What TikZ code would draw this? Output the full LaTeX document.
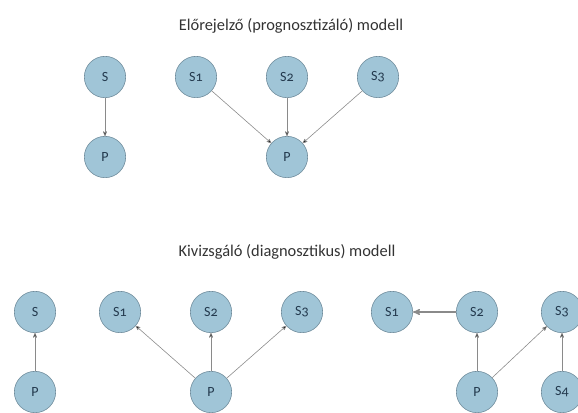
\documentclass[tikz,border=0pt]{standalone}
\usepackage{fontspec}
\setmainfont{Carlito}
\newfontfamily\oldnum[Numbers=OldStyle]{Carlito}
\usetikzlibrary{arrows}
\definecolor{nodefill}{HTML}{A0C5D7}
\definecolor{nodeline}{HTML}{6F8C9C}
\definecolor{nodetext}{HTML}{243A4E}
\definecolor{edgeline}{HTML}{8A8A8A}

\begin{document}
\begin{tikzpicture}[x=0.03cm,y=-0.03cm,>=stealth',
  main node/.style={circle,draw=nodeline,fill=nodefill,line width=0.5pt,
    minimum size=1.24cm,inner sep=0pt,text=nodetext,font=\oldnum\fontsize{12}{14}\selectfont},
  title/.style={font=\fontsize{14}{16}\selectfont,text=black!80},
  link/.style={->,draw=edgeline,line width=0.5pt}]
  \useasboundingbox (0,0) rectangle (578,412);
  % upper half
  \node[title] (t1) at (291,26) {Előrejelző (prognosztizáló) modell};
  \node[main node] (s)  at (105,77)   {S};
  \node[main node] (p)  at (105,157)  {P};
  \node[main node] (s1) at (196,77)   {S1};
  \node[main node] (s2) at (287,77)   {S2};
  \node[main node] (s3) at (378,77)   {S3};
  \node[main node] (p1) at (287,157)  {P};
  % lower half
  \node[title] (t2) at (287,252) {Kivizsgáló (diagnosztikus) modell};
  \node[main node] (bs)  at (35,312)  {S};
  \node[main node] (bp)  at (35,392)  {P};
  \node[main node] (bs1) at (120,312) {S1};
  \node[main node] (bs2) at (211,312) {S2};
  \node[main node] (bs3) at (302,312) {S3};
  \node[main node] (bp1) at (211,392) {P};
  \node[main node] (cs1) at (392,312) {S1};
  \node[main node] (cs2) at (477,312) {S2};
  \node[main node] (cs3) at (562,312) {S3};
  \node[main node] (cp)  at (477,392) {P};
  \node[main node] (cs4) at (562,392) {S4};
  \path[link]
    (s) edge (p)
    (s1) edge (p1)
    (s2) edge (p1)
    (s3) edge (p1)
    (bp) edge (bs)
    (bp1) edge (bs1)
    (bp1) edge (bs2)
    (bp1) edge (bs3)
    (cp) edge (cs2)
    (cp) edge (cs3)
    (cs4) edge (cs3);
  \draw[link,line width=1.1pt] (cs2) -- (cs1);
\end{tikzpicture}
\end{document}
